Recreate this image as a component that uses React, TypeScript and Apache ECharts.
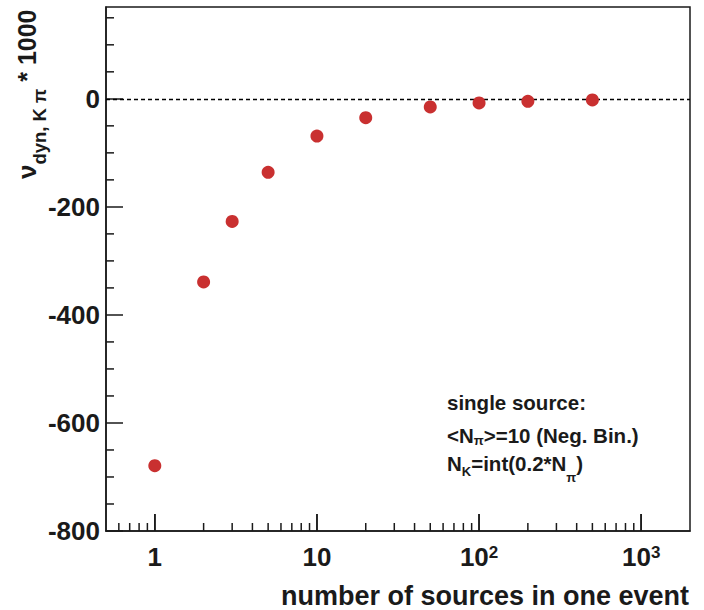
import React, { useEffect, useRef } from "react";
import * as echarts from "echarts";

// ---- data ----
const sources = [1, 2, 3, 5, 10, 20, 50, 100, 200, 500];
const nuDyn = [-679, -339, -227, -136, -69, -35, -15, -7.5, -4.5, -2];

const X_MIN = 0.5;
const X_MAX = 2000;
const Y_MIN = -800;
const Y_MAX = 170;
const Y_STEP = 200;

const xMajorTicks = [1, 10, 100, 1000];
const xMinorTicks = [0.6, 0.7, 0.8, 0.9, 2, 3, 4, 5, 6, 7, 8, 9, 20, 30, 40, 50, 60, 70, 80, 90, 200, 300, 400, 500, 600, 700, 800, 900];
const yMinorTicks = [-750, -700, -650, -550, -500, -450, -350, -300, -250, -150, -100, -50, 50, 100, 150];

const xTitle = "number of sources in one event";
const yTitle = "{nu|ν}{sub|dyn, K π}{t| * 1000}";
const legendLines = [
  "{m|single source:}",
  "{m|<N}{s1|π}{m|>=10 (Neg. Bin.)}",
  "{m|N}{s2|K}{m|=int(0.2*N}{s3|π}{m|)}",
];

const FONT = "'Liberation Sans', Arial, Helvetica, sans-serif";
const INK = "#1a1a1a";
const RED = "#c93030";

// major x tick length expressed in y-axis units (17 px of a 524 px tall plot)
const MAJOR_TICK_UNITS = ((Y_MAX - Y_MIN) * 17) / 524;

function tickSeries(data: number[][], dx: number, dy: number, extra: any = {}) {
  return {
    type: "custom",
    coordinateSystem: "cartesian2d",
    clip: false,
    z: 100,
    data,
    renderItem: (params: any, api: any) => {
      const p = api.coord([api.value(0), api.value(1)]);
      return {
        type: "line",
        shape: { x1: p[0], y1: p[1], x2: p[0] + dx, y2: p[1] + dy },
        style: { stroke: INK, lineWidth: 1.5 },
      };
    },
    ...extra,
  };
}

export default function App() {
  const ref = useRef<HTMLDivElement>(null);
  useEffect(() => {
    if (!ref.current) return;
    const chart = echarts.init(ref.current, undefined, { renderer: "svg" });
    const base = { fontWeight: "bold", fontFamily: FONT, fill: INK, color: INK, verticalAlign: "top" };
    const legendRich = {
      m: { ...base, fontSize: 20.5, lineHeight: 20.5 },
      s1: { ...base, fontSize: 13, lineHeight: 13, padding: [8.75, 0, 0, 0] },
      s2: { ...base, fontSize: 13, lineHeight: 13, padding: [11.75, 0, 0, 0] },
      s3: { ...base, fontSize: 13, lineHeight: 13, padding: [17.75, 0, 0, 0] },
    };
    const legendTops = [392, 425, 453];
    const option: any = {
      animation: false,
      backgroundColor: "#ffffff",
      grid: {
        left: 106,
        top: 7,
        right: 14,
        bottom: 79,
        show: true,
        borderColor: INK,
        borderWidth: 1.5,
      },
      xAxis: {
        type: "log",
        min: X_MIN,
        max: X_MAX,
        splitLine: { show: false },
        axisLine: { show: true, onZero: false, lineStyle: { color: INK, width: 1.5 } },
        axisTick: { show: false },
        minorTick: { show: false },
        axisLabel: {
          showMinLabel: false,
          showMaxLabel: false,
          margin: 13,
          formatter: (v: number) => {
            const l = Math.log10(v);
            const e = Math.round(l);
            if (Math.abs(l - e) > 1e-6) return "";
            if (e <= 1) return `{m|${Math.round(v)}}`;
            return `{m|10}{s|${e}}`;
          },
          rich: {
            m: { fontSize: 26, fontWeight: "bold", fontFamily: FONT, color: INK, lineHeight: 30, verticalAlign: "top" },
            s: { fontSize: 17, fontWeight: "bold", fontFamily: FONT, color: INK, lineHeight: 13, verticalAlign: "top" },
          },
        },
      },
      yAxis: {
        type: "value",
        min: Y_MIN,
        max: Y_MAX,
        interval: Y_STEP,
        splitLine: { show: false },
        axisLine: { show: true, onZero: false, lineStyle: { color: INK, width: 1.5 } },
        axisTick: { show: true, inside: true, length: 17, lineStyle: { color: INK, width: 1.5 } },
        axisLabel: {
          showMaxLabel: false,
          margin: 6,
          fontSize: 26,
          fontWeight: "bold",
          fontFamily: FONT,
          color: INK,
        },
      },
      series: [
        tickSeries(xMajorTicks.map((v) => [v, Y_MIN]), 0, -17, {
          markLine: {
            silent: true,
            symbol: ["none", "none"],
            label: { show: false },
            lineStyle: { color: INK, width: 1.5, type: "solid", opacity: 1 },
            data: xMajorTicks.map((v) => [
              { coord: [v, Y_MIN] },
              { coord: [v, Y_MIN + MAJOR_TICK_UNITS] },
            ]),
          },
        }),
        tickSeries(xMinorTicks.map((v) => [v, Y_MIN]), 0, -8),
        tickSeries(yMinorTicks.map((v) => [X_MIN, v]), 8, 0),
        {
          type: "scatter",
          symbol: "circle",
          symbolSize: 13,
          z: 10,
          itemStyle: { color: RED, opacity: 1 },
          data: sources.map((s, i) => [s, nuDyn[i]]),
          markLine: {
            silent: true,
            symbol: ["none", "none"],
            label: { show: false },
            lineStyle: { color: "#000", width: 1.3, type: [4, 3], opacity: 1 },
            data: [{ yAxis: 0 }],
          },
        },
      ],
      graphic: [
        {
          type: "text",
          x: 689,
          y: 596,
          style: {
            text: xTitle,
            fontSize: 27,
            lineHeight: 24,
            fontWeight: "bold",
            fontFamily: FONT,
            fill: INK,
            align: "right",
            textAlign: "right",
            verticalAlign: "middle",
            textVerticalAlign: "middle",
          },
        },
        {
          type: "text",
          x: 14,
          y: 179,
          rotation: Math.PI / 2,
          style: {
            text: yTitle,
            align: "left",
            textAlign: "left",
            verticalAlign: "top",
            textVerticalAlign: "top",
            rich: {
              nu: { ...base, fontSize: 26, lineHeight: 26 },
              sub: { ...base, fontSize: 18.5, lineHeight: 18.5, padding: [16.25, 0, 0, 0] },
              t: { ...base, fontSize: 25, lineHeight: 25 },
            },
          },
        },
        ...legendLines.map((line, i) => ({
          type: "text",
          x: 447,
          y: legendTops[i],
          style: {
            text: line,
            align: "left",
            textAlign: "left",
            verticalAlign: "top",
            textVerticalAlign: "top",
            rich: legendRich,
          },
        })),
      ],
    };
    chart.setOption(option);
    return () => chart.dispose();
  }, []);
  return (
    <div
      ref={ref}
      style={{ position: "fixed", left: 0, top: 0, width: 704, height: 610, background: "#fff" }}
    />
  );
}
